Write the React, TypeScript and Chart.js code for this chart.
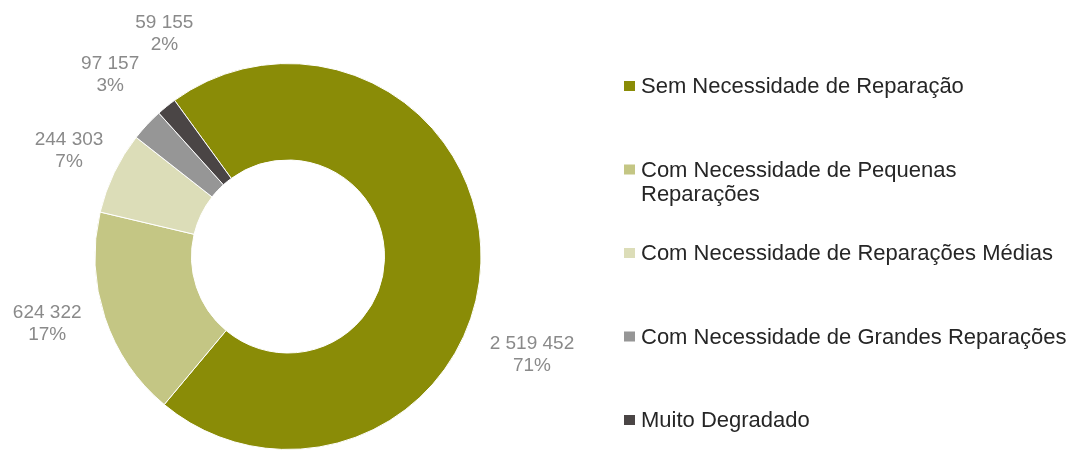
import React, { useEffect, useRef } from "react";
import { Chart, registerables } from "chart.js";

Chart.register(...registerables);

const categories: (string | string[])[] = [
  "Sem Necessidade de Reparação",
  ["Com Necessidade de Pequenas", "Reparações"],
  "Com Necessidade de Reparações Médias",
  "Com Necessidade de Grandes Reparações",
  "Muito Degradado",
];
const values = [2519452, 624322, 244303, 97157, 59155];
const percentLabels = ["71%", "17%", "7%", "3%", "2%"];
const colors = ["#8A8C07", "#C4C684", "#DCDDB8", "#969696", "#4A4545"];

// label placement tweaks (angle offset in degrees, extra radial distance in px)
const labelAngleOffset = [20, 2.8, 0, 2.5, 10];
const labelExtraRadius = [70, 57, 50, 61, 62];

const FONT = "'Liberation Sans', Arial, sans-serif";

const fmt = (v: number) => v.toString().replace(/\B(?=(\d{3})+(?!\d))/g, " ");

const overlayPlugin = {
  id: "overlay",
  afterDraw(chart: any) {
    const ctx = chart.ctx as CanvasRenderingContext2D;
    const meta = chart.getDatasetMeta(0);
    ctx.save();
    // data labels
    ctx.font = `19px ${FONT}`;
    ctx.fillStyle = "#8a8a8a";
    ctx.textAlign = "center";
    ctx.textBaseline = "middle";
    meta.data.forEach((arc: any, i: number) => {
      const p = arc.getProps(["x", "y", "startAngle", "endAngle", "outerRadius"], true);
      const mid = (p.startAngle + p.endAngle) / 2 + (labelAngleOffset[i] * Math.PI) / 180;
      const r = p.outerRadius + labelExtraRadius[i];
      const cx = p.x + Math.cos(mid) * r;
      const cy = p.y + Math.sin(mid) * r;
      ctx.fillText(fmt(values[i]), cx, cy - 11);
      ctx.fillText(percentLabels[i], cx, cy + 11);
    });
    // legend
    ctx.font = `22px ${FONT}`;
    ctx.textAlign = "left";
    ctx.textBaseline = "alphabetic";
    const x0 = 624;
    const y0 = 93;
    const step = 83.5;
    categories.forEach((lab, i) => {
      const by = y0 + i * step;
      ctx.fillStyle = colors[i];
      ctx.fillRect(x0, by - 12, 11, 10);
      ctx.fillStyle = "#262626";
      const lines = Array.isArray(lab) ? lab : [lab];
      lines.forEach((ln, j) => ctx.fillText(ln, x0 + 17, by + j * 24));
    });
    ctx.restore();
  },
};

export default function App() {
  const ref = useRef<HTMLCanvasElement>(null);
  useEffect(() => {
    if (!ref.current) return;
    const chart = new Chart(ref.current, {
      type: "doughnut",
      data: {
        labels: categories as any,
        datasets: [
          {
            data: values,
            backgroundColor: colors,
            borderColor: "#ffffff",
            borderWidth: 1,
          },
        ],
      },
      options: {
        responsive: false,
        animation: false,
        rotation: -36,
        cutout: "50%",
        layout: { padding: { left: 94, right: 590, top: 63, bottom: 0 } },
        plugins: {
          legend: { display: false },
          tooltip: { enabled: false },
        },
      },
      plugins: [overlayPlugin],
    });
    return () => chart.destroy();
  }, []);
  return (
    <div style={{ position: "absolute", left: 0, top: 0, width: 1072, height: 450, background: "#fff" }}>
      <canvas ref={ref} width={1072} height={450} style={{ display: "block" }} />
    </div>
  );
}
